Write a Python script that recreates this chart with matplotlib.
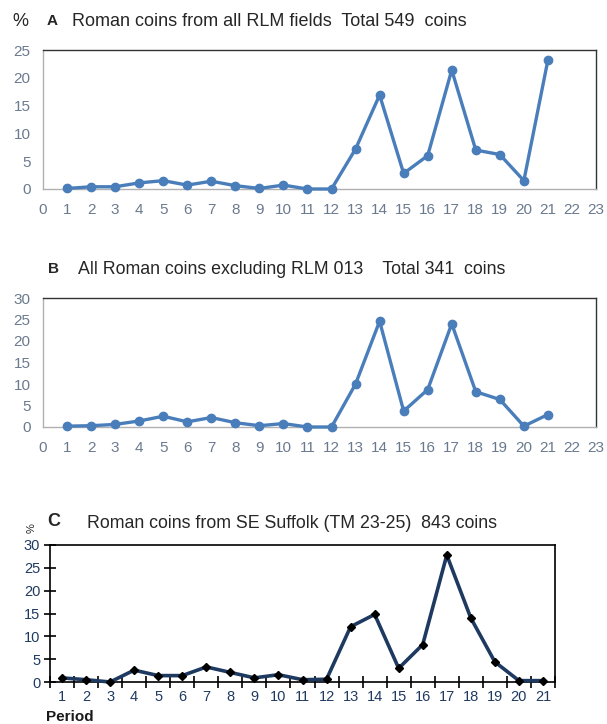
import matplotlib
matplotlib.use('Agg')
import matplotlib.pyplot as plt

# periods 1..21 for every panel
periods = list(range(1, 22))

# A: all RLM fields, % of 549 coins
pct_a = [0.1, 0.4, 0.4, 1.1, 1.5, 0.7, 1.4, 0.6, 0.1, 0.7, 0.0, 0.0,
         7.2, 16.9, 2.8, 6.0, 21.4, 7.0, 6.2, 1.5, 23.2]
# B: excluding RLM 013, % of 341 coins
pct_b = [0.2, 0.3, 0.6, 1.4, 2.5, 1.2, 2.2, 1.0, 0.3, 0.8, 0.0, 0.0,
         10.0, 24.6, 3.7, 8.7, 24.0, 8.2, 6.4, 0.2, 2.9]
# C: SE Suffolk (TM 23-25), % of 843 coins
pct_c = [0.9, 0.5, 0.0, 2.6, 1.4, 1.4, 3.3, 2.1, 0.9, 1.6, 0.5, 0.6,
         12.1, 14.8, 3.0, 8.2, 27.8, 14.0, 4.4, 0.3, 0.3]

titles = {
    'A': 'Roman coins from all RLM fields  Total 549  coins',
    'B': 'All Roman coins excluding RLM 013    Total 341  coins',
    'C': 'Roman coins from SE Suffolk (TM 23-25)  843 coins',
}

excel_font = ['Liberation Sans', 'DejaVu Sans']
arial = ['Liberation Sans', 'DejaVu Sans']

W, H = 607, 724
fig = plt.figure(figsize=(W / 100, H / 100), dpi=100)


def box(x0, y0, x1, y1):
    # pixel box -> figure fraction rect
    return [x0 / W, 1 - y1 / H, (x1 - x0) / W, (y1 - y0) / H]


blue = '#4a7ebb'
tick_grey = '#6b7a8f'

# --- panels A and B (Excel style) ---
for rect, vals, ymax in ((box(43, 50, 596, 189), pct_a, 25),
                         (box(43, 298, 596, 427), pct_b, 30)):
    ax = fig.add_axes(rect)
    ax.plot(periods, vals, color=blue, lw=2.4, marker='o', ms=6,
            mfc=blue, mec=blue, zorder=3, clip_on=False)
    ax.set_xlim(0, 23)
    ax.set_ylim(0, ymax)
    ax.set_xticks(range(0, 24))
    ax.set_yticks(range(0, ymax + 1, 5))
    ax.tick_params(length=0, labelsize=11, labelcolor=tick_grey)
    ax.tick_params(axis='x', pad=10)
    ax.tick_params(axis='y', pad=9)
    for lab in ax.get_xticklabels() + ax.get_yticklabels():
        lab.set_family(excel_font)
    ax.spines['left'].set_color('#b0b0b0')
    ax.spines['bottom'].set_color('#b0b0b0')
    ax.spines['top'].set_color('#333333')
    ax.spines['right'].set_color('#333333')
    for s in ax.spines.values():
        s.set_linewidth(1.0)

tcol = '#262626'
fig.text(12 / W, 1 - 21 / H, '%', fontsize=13, family=excel_font, color=tcol, va='center')
fig.text(47 / W, 1 - 21 / H, 'A', fontsize=11, family=excel_font, weight='bold', color=tcol, va='center')
fig.text(72 / W, 1 - 21 / H, titles['A'], fontsize=13, family=excel_font, color=tcol, va='center')

fig.text(48 / W, 1 - 269 / H, 'B', fontsize=11, family=excel_font, weight='bold', color=tcol, va='center')
fig.text(78 / W, 1 - 269 / H, titles['B'], fontsize=12.8, family=excel_font, color=tcol, va='center')

# --- panel C (older chart style) ---
navy = '#1f3a60'
axc = fig.add_axes(box(50, 545, 555, 682))
axc.plot(periods, pct_c, color=navy, lw=2.6, zorder=3, clip_on=False)
axc.plot(periods, pct_c, ls='', marker='D', ms=4, color='black', zorder=4, clip_on=False)
axc.set_xlim(0.5, 21.5)
axc.set_ylim(0, 30)
axc.set_yticks(range(0, 31, 5))
axc.set_xticks([p + 0.5 for p in range(0, 22)])
axc.set_xticklabels([])
axc.set_xticks(periods, minor=True)
axc.set_xticklabels([str(p) for p in periods], minor=True)
axc.tick_params(axis='x', which='major', direction='inout', length=8, width=1.2, color='black')
axc.tick_params(axis='x', which='minor', length=0, pad=6, labelsize=10.5, labelcolor=navy)
axc.tick_params(axis='y', direction='inout', length=8, width=1.2, color='black',
                labelsize=10.5, labelcolor=navy, pad=3)
for lab in axc.get_xticklabels(minor=True) + axc.get_yticklabels():
    lab.set_family(arial)
for s in axc.spines.values():
    s.set_linewidth(1.2)
    s.set_color('black')

fig.text(32 / W, 1 - 528 / H, '%', fontsize=8, family=arial, color=tcol, rotation=90,
         ha='center', va='center')
fig.text(47 / W, 1 - 522 / H, 'C', fontsize=13, family=excel_font, weight='bold',
         color=tcol, va='center')
fig.text(87 / W, 1 - 523 / H, titles['C'], fontsize=12.8, family=excel_font, color=tcol, va='center')
fig.text(46 / W, 1 - 717 / H, 'Period', fontsize=11, family=arial, weight='bold',
         color='#1a1a1a', va='center')

fig.savefig('out.png', dpi=100, facecolor='white')
